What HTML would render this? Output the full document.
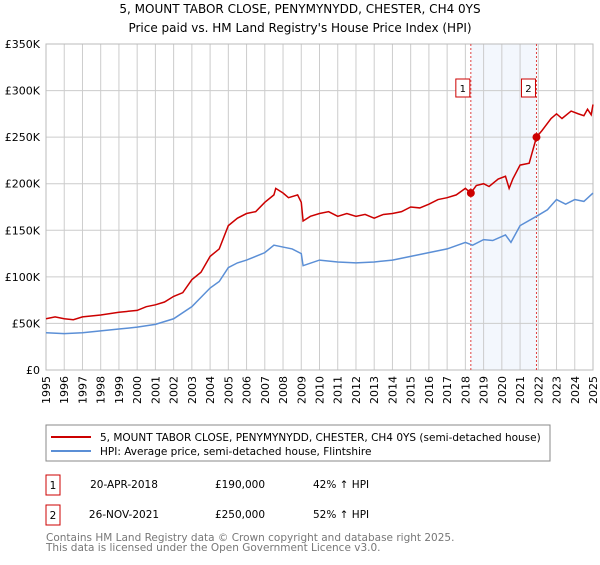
<!DOCTYPE html>
<html><head><meta charset="utf-8"><style>
body{margin:0;background:#fff;font-family:"Liberation Sans","DejaVu Sans",sans-serif;}
svg text{font-family:"DejaVu Sans","Liberation Sans",sans-serif;}
</style></head><body>
<svg id="c" width="600" height="560">
<text x="300" y="13" text-anchor="middle" font-size="12">5, MOUNT TABOR CLOSE, PENYMYNYDD, CHESTER, CH4 0YS</text>
<text x="300" y="32" text-anchor="middle" font-size="12">Price paid vs. HM Land Registry's House Price Index (HPI)</text>
<g id="plot"></g>
<rect x="46" y="425" width="504" height="36" fill="none" stroke="#888"/>
<line x1="51" y1="437" x2="91" y2="437" stroke="#cc0000" stroke-width="2"/>
<text x="100" y="441" font-size="10.5">5, MOUNT TABOR CLOSE, PENYMYNYDD, CHESTER, CH4 0YS (semi-detached house)</text>
<line x1="51" y1="451" x2="91" y2="451" stroke="#5b8fd6" stroke-width="2"/>
<text x="100" y="455" font-size="10.5">HPI: Average price, semi-detached house, Flintshire</text>
<rect x="46" y="475" width="14" height="20" fill="none" stroke="#cc0000"/>
<text x="53" y="489" font-size="10.5" text-anchor="middle">1</text>
<text x="124" y="488" font-size="10.5" text-anchor="middle">20-APR-2018</text>
<text x="240" y="488" font-size="10.5" text-anchor="middle">£190,000</text>
<text x="313" y="488" font-size="10.5">42% ↑ HPI</text>
<rect x="46" y="505" width="14" height="20" fill="none" stroke="#cc0000"/>
<text x="53" y="519" font-size="10.5" text-anchor="middle">2</text>
<text x="124" y="518" font-size="10.5" text-anchor="middle">26-NOV-2021</text>
<text x="240" y="518" font-size="10.5" text-anchor="middle">£250,000</text>
<text x="313" y="518" font-size="10.5">52% ↑ HPI</text>
<text x="46" y="541" font-size="10.5" fill="#777">Contains HM Land Registry data © Crown copyright and database right 2025.</text>
<text x="46" y="551" font-size="10.5" fill="#777">This data is licensed under the Open Government Licence v3.0.</text>
</svg>
<script>
const yTicks=[0,50,100,150,200,250,300,350];
const yTickLabels=["£0","£50K","£100K","£150K","£200K","£250K","£300K","£350K"];
const years=[1995,1996,1997,1998,1999,2000,2001,2002,2003,2004,2005,2006,2007,2008,2009,2010,2011,2012,2013,2014,2015,2016,2017,2018,2019,2020,2021,2022,2023,2024,2025];
const propT=[1995,1995.5,1996,1996.5,1997,1998,1999,2000,2000.5,2001,2001.5,2002,2002.5,2003,2003.5,2004,2004.5,2005,2005.5,2006,2006.5,2007,2007.5,2007.6,2008,2008.3,2008.8,2009,2009.1,2009.5,2010,2010.5,2011,2011.5,2012,2012.5,2013,2013.5,2014,2014.5,2015,2015.5,2016,2016.5,2017,2017.5,2018,2018.3,2018.6,2019,2019.3,2019.8,2020.2,2020.4,2020.6,2021,2021.5,2021.9,2022.2,2022.7,2023,2023.3,2023.8,2024.2,2024.5,2024.7,2024.9,2025];
const propV=[55,57,55,54,57,59,62,64,68,70,73,79,83,97,105,122,130,155,163,168,170,180,188,195,190,185,188,180,160,165,168,170,165,168,165,167,163,167,168,170,175,174,178,183,185,188,195,190,198,200,197,205,208,195,205,220,222,250,257,270,275,270,278,275,273,280,274,285];
const hpiT=[1995,1996,1997,1998,1999,2000,2001,2002,2003,2004,2004.5,2005,2005.5,2006,2007,2007.5,2008,2008.5,2009,2009.1,2010,2011,2012,2013,2014,2015,2016,2017,2018,2018.4,2019,2019.5,2020.2,2020.5,2021,2021.9,2022.5,2023,2023.5,2024,2024.5,2025];
const hpiV=[40,39,40,42,44,46,49,55,68,88,95,110,115,118,126,134,132,130,125,112,118,116,115,116,118,122,126,130,137,134,140,139,145,137,155,165,172,183,178,183,181,190];
const saleT=[2018.3,2021.9];
const saleV=[190,250];
const saleLabels=["1","2"];
const X0=46,X1=593,Y0=370,Y1=44;
const xs=t=>X0+(t-1995)/30*(X1-X0);
const ys=v=>Y0-v/350*(Y0-Y1);
const NS="http://www.w3.org/2000/svg";
const g=document.getElementById('plot');
function mk(tag,attrs){const e=document.createElementNS(NS,tag);for(const k in attrs)e.setAttribute(k,attrs[k]);g.appendChild(e);return e;}
const band=mk('rect',{x:xs(saleT[0]),y:Y1,width:xs(saleT[1])-xs(saleT[0]),height:Y0-Y1,fill:'#eef3fc',opacity:0.7});


years.forEach(y=>{const l=mk('line',{x1:xs(y),x2:xs(y),y1:Y1,y2:Y0,stroke:'#ccc'});


const t=mk('text',{x:0,y:0,'font-size':11,'text-anchor':'end',transform:`translate(${xs(y)+4},${Y0+6}) rotate(-90)`});
t.textContent=y;

});
yTicks.forEach((v,i)=>{const l=mk('line',{x1:X0,x2:X1,y1:ys(v),y2:ys(v),stroke:'#ccc'});


const t=mk('text',{x:X0-6,y:ys(v)+4,'font-size':11,'text-anchor':'end'});
t.textContent=yTickLabels[i];

});
const border=mk('rect',{x:X0,y:Y1,width:X1-X0,height:Y0-Y1,fill:'none',stroke:'#bbb'});


saleT.forEach((s,i)=>{const l=mk('line',{x1:xs(s),x2:xs(s),y1:Y1,y2:Y0,stroke:'#e04040','stroke-dasharray':'2,2'});


const r=mk('rect',{x:xs(s)-15,y:79,width:14,height:18,fill:'#fff',stroke:'#cc0000'});


const t=mk('text',{x:xs(s)-8,y:92,'font-size':10,'text-anchor':'middle'});
t.textContent=saleLabels[i];

});
const hp=mk('polyline',{points:hpiT.map((t,i)=>xs(t)+','+ys(hpiV[i])).join(' '),fill:'none',stroke:'#5b8fd6','stroke-width':1.5});


const pp=mk('polyline',{points:propT.map((t,i)=>xs(t)+','+ys(propV[i])).join(' '),fill:'none',stroke:'#cc0000','stroke-width':1.5});


saleT.forEach((s,i)=>{const c=mk('circle',{cx:xs(s),cy:ys(saleV[i]),r:4,fill:'#cc0000'});

});
</script>
</body></html>
